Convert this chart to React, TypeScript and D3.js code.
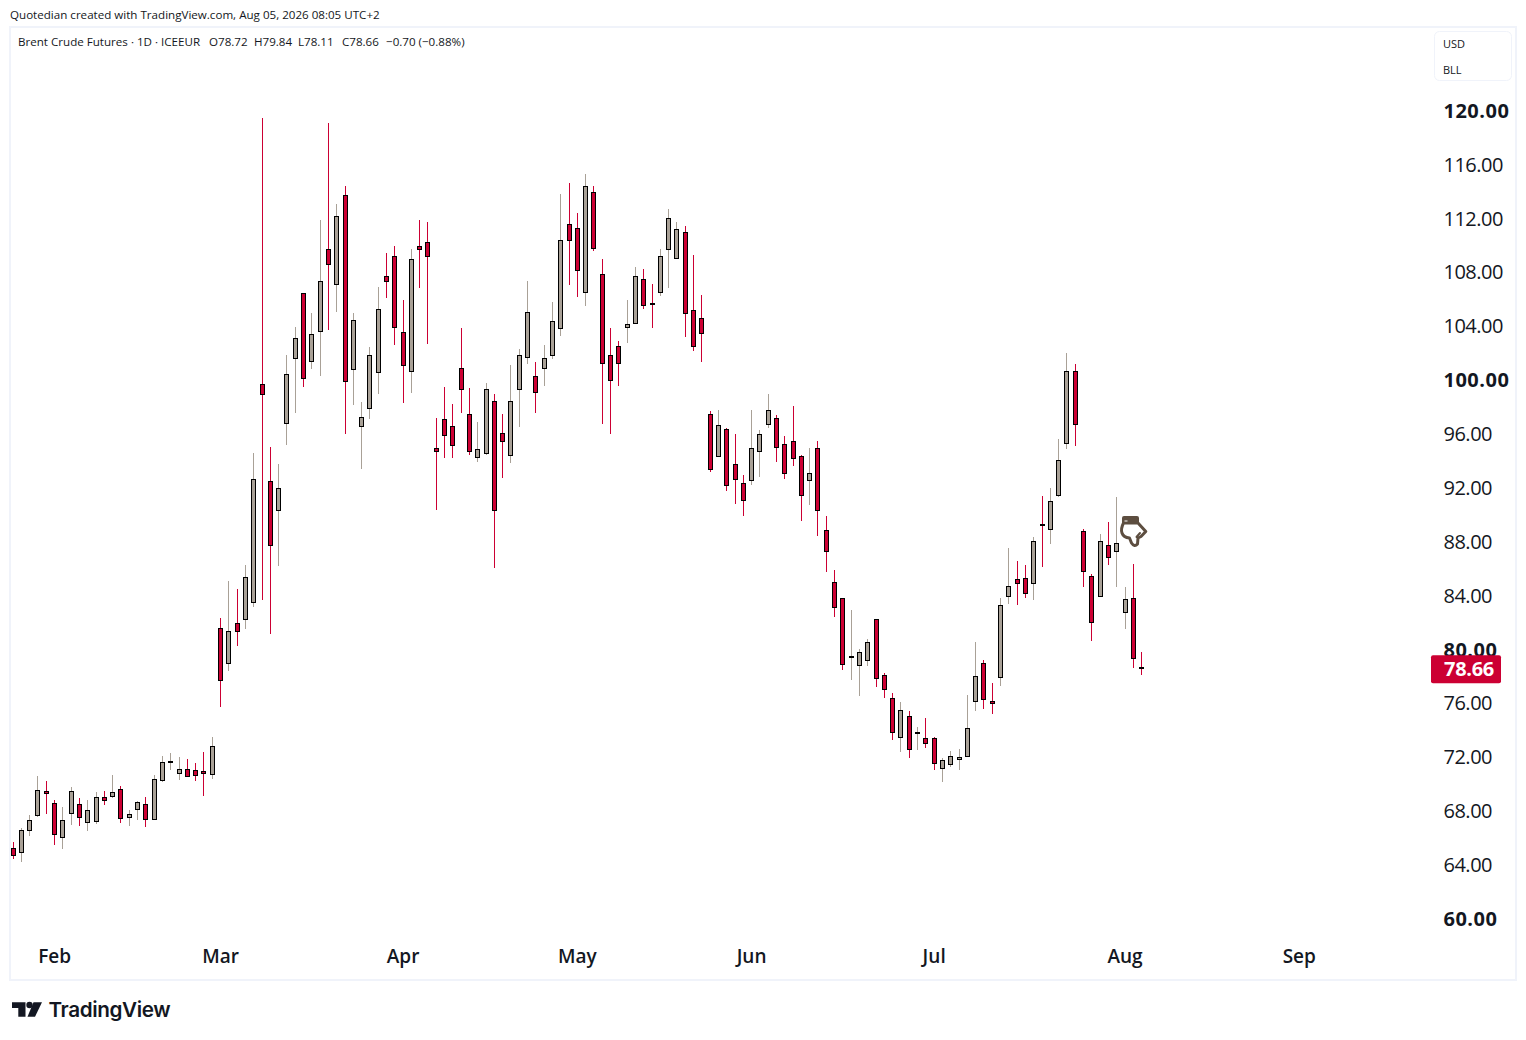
import React from "react";
import * as d3 from "d3";

const opens = [
  65.25,64.92,66.56,67.67,69.48,68.59,66.04,67.82,68.51,67.15,
  67.23,69.03,69.08,69.63,67.52,68.12,68.51,67.37,70.27,71.68,
  70.79,71.11,71.04,70.96,70.72,81.57,78.95,81.94,82.22,83.48,
  99.69,92.49,90.31,96.77,101.59,106.45,101.37,103.60,109.71,107.09,
  113.72,100.78,96.55,97.88,100.55,107.71,109.19,103.55,100.63,109.94,
  110.23,94.94,97.09,96.57,100.87,97.46,94.24,94.54,98.42,96.05,
  94.39,99.29,101.67,100.28,100.85,101.81,103.82,111.57,111.27,106.49,
  113.94,107.85,101.84,102.51,103.89,104.19,107.48,105.70,106.49,109.68,
  109.02,110.97,105.18,104.59,97.46,94.32,96.35,93.75,92.34,92.54,
  94.69,96.70,97.17,95.24,95.46,94.34,92.54,94.94,88.85,84.99,
  83.80,79.35,78.80,79.17,82.24,78.08,76.38,73.46,75.04,73.83,
  73.41,73.41,71.16,71.45,71.83,72.05,76.13,78.98,76.16,77.91,
  83.92,85.21,85.28,84.89,89.32,88.90,91.42,95.28,100.65,88.77,
  85.43,83.92,87.74,87.21,82.74,83.80,78.72,
];
const highs = [
  65.72,66.73,67.72,70.62,70.25,68.83,68.31,69.78,68.98,68.83,
  69.43,69.50,70.69,69.87,68.09,68.76,69.06,70.69,72.10,72.32,
  72.03,71.88,71.58,72.40,73.51,82.34,85.09,84.49,86.27,94.59,
  119.47,95.04,93.77,101.87,103.95,106.45,104.99,111.89,119.09,113.08,
  114.42,104.99,98.38,102.46,106.92,109.44,109.96,105.95,109.74,111.89,
  111.74,97.16,99.49,98.23,103.87,99.39,96.89,99.76,98.97,97.48,
  101.12,102.31,107.33,101.34,102.58,105.80,113.82,114.63,112.41,115.30,
  114.41,108.99,103.87,102.90,105.95,108.40,108.25,107.14,109.73,112.70,
  111.74,111.44,109.29,106.32,97.71,97.78,96.45,96.00,92.96,97.78,
  96.30,98.97,97.41,95.85,98.08,94.44,94.96,95.48,89.91,85.90,
  83.80,82.94,80.04,80.78,82.24,78.23,76.77,76.11,75.44,74.28,
  74.92,73.51,71.95,72.47,72.62,76.63,80.56,79.20,77.49,83.82,
  87.51,86.57,86.27,88.35,91.40,92.00,95.63,102.01,101.20,88.95,
  85.61,88.58,89.47,91.32,84.64,86.35,79.84,
];
const lows = [
  64.45,64.23,66.16,67.57,67.80,65.49,65.20,66.98,66.90,66.53,
  67.05,68.46,68.98,67.13,66.90,67.35,66.83,67.37,70.17,71.06,
  70.32,70.57,70.25,69.13,70.39,75.76,78.40,80.26,81.52,83.16,
  83.67,81.15,86.20,95.18,97.56,99.49,100.83,100.31,103.75,105.09,
  96.00,98.15,93.40,97.11,98.97,106.10,102.61,98.30,99.05,106.84,
  102.69,90.36,94.22,94.22,97.58,94.47,93.95,94.47,86.05,92.76,
  93.87,96.55,101.22,97.58,99.59,101.57,103.27,107.06,106.17,105.50,
  109.59,96.75,96.00,99.56,102.75,104.19,105.28,103.87,106.24,106.84,
  109.02,103.20,102.16,101.34,93.18,94.32,91.77,90.81,89.91,92.22,
  92.81,96.45,93.92,92.66,93.63,89.54,90.73,88.43,85.76,82.42,
  78.48,77.74,76.55,78.78,77.22,76.40,73.29,72.39,71.95,72.54,
  72.69,71.06,70.17,71.31,71.06,72.05,75.44,75.59,75.22,77.32,
  83.38,83.30,83.82,83.67,86.13,87.83,91.35,94.89,95.11,84.64,
  80.63,83.92,86.27,84.64,81.52,78.62,78.11,
];
const closes = [
  64.70,66.58,67.33,69.55,69.30,66.26,67.33,69.48,67.52,68.07,
  69.03,68.79,69.40,67.45,67.77,68.66,67.37,70.37,71.63,71.71,
  71.11,70.57,70.64,70.79,72.82,77.69,81.35,81.32,85.36,92.63,
  98.92,87.71,91.97,100.43,103.11,100.11,103.40,107.34,108.58,112.16,
  99.89,104.44,97.24,101.84,105.26,107.31,103.90,101.07,108.97,109.69,
  109.17,94.69,95.88,95.13,99.29,94.69,94.86,99.31,90.31,95.43,
  98.42,101.84,105.03,99.07,101.62,104.36,110.38,110.35,108.13,114.39,
  109.76,101.22,99.96,101.22,104.14,107.70,105.53,105.68,109.19,112.01,
  111.19,104.93,102.48,103.45,93.35,96.65,92.17,92.61,91.05,94.94,
  95.98,97.76,94.99,93.06,94.17,91.42,93.08,90.31,87.27,83.11,
  78.88,79.49,79.79,80.53,77.84,77.02,73.83,75.49,72.57,73.87,
  72.96,71.53,71.78,72.07,72.00,74.15,78.01,76.28,75.98,83.28,
  84.69,84.89,84.15,88.03,89.22,91.00,94.05,100.65,96.69,85.78,
  81.99,88.03,86.82,87.88,83.73,79.32,78.66,
];

const priceTicks = [60, 64, 68, 72, 76, 80, 84, 88, 92, 96, 100, 104, 108, 112, 116, 120];
const monthLabels = ["Feb", "Mar", "Apr", "May", "Jun", "Jul", "Aug", "Sep"];
const monthBarIndex = [5, 25, 47, 68, 89, 111, 134, 155];
const lastClose = 78.66;

const attribution = "Quotedian created with TradingView.com, Aug 05, 2026 08:05 UTC+2";
const legendTitle = "Brent Crude Futures · 1D · ICEEUR";
const legendValues = ["O78.72", "H79.84", "L78.11", "C78.66", "−0.70 (−0.88%)"];
const legendOffsets = [191, 236, 280, 324, 368];

const UP = "#A9A197";
const DOWN = "#CC0033";
const INK = "#131722";
const BORDER = "#F0F3FA";
const SANS = "'Open Sans', 'Noto Sans', sans-serif";

const x = d3.scaleLinear().domain([0, 136]).range([13.1, 1141.6]);
const y = d3.scaleLinear().domain([60, 120]).range([919, 110.8]);

export default function App() {
  const barCol = (i: number) => Math.floor(x(i)) + 0.5;
  return (
    <svg
      width={1526}
      height={1040}
      viewBox="0 0 1526 1040"
      style={{ position: "absolute", left: 0, top: 0, display: "block", background: "#fff" }}
    >
      <text x={10} y={18.5} fontFamily={SANS} fontSize={11.6} fill={INK}>{attribution}</text>

      <rect x={10} y={27} width={1506} height={953} fill="#fff" stroke={BORDER} strokeWidth={2} />

      <text x={18} y={46} fontFamily={SANS} fontSize={11.6} fill={INK}>{legendTitle}</text>
      {legendValues.map((v, i) => (
        <text key={v} x={18 + legendOffsets[i]} y={46} fontFamily={SANS} fontSize={11.6} fill={INK}>{v}</text>
      ))}

      <rect x={1434.5} y={31.5} width={77} height={49} rx={5} fill="#fff" stroke={BORDER} />
      <text x={1443} y={47.5} fontFamily={SANS} fontSize={11} fill={INK}>USD</text>
      <text x={1443} y={73.5} fontFamily={SANS} fontSize={11} fill={INK}>BLL</text>

      {priceTicks.map((t) => (
        <text
          key={t}
          x={1443.5}
          y={y(t) + 7}
          fontFamily={SANS}
          fontSize={20}
          fontWeight={t % 20 === 0 ? 700 : 500}
          letterSpacing={t % 20 === 0 ? 0.5 : -0.5}
          fill={INK}
        >
          {t.toFixed(2)}
        </text>
      ))}

      {monthLabels.map((m, i) => (
        <text
          key={m}
          x={x(monthBarIndex[i])}
          y={963}
          textAnchor="middle"
          fontFamily={SANS}
          fontSize={19}
          fontWeight={600}
          fill={INK}
        >
          {m}
        </text>
      ))}

      <g shapeRendering="crispEdges">
        {closes.map((c, i) => {
          const col = barCol(i);
          const color = c >= opens[i] ? UP : DOWN;
          const top = Math.round(y(Math.max(opens[i], c)));
          const bot = Math.round(y(Math.min(opens[i], c)));
          const thin = bot - top <= 1;
          return (
            <g key={i}>
              <line x1={col} x2={col} y1={y(highs[i])} y2={y(lows[i])} stroke={color} strokeWidth={1} />
              {thin ? (
                <rect x={col - 2.5} y={top} width={5} height={bot - top + 1} fill="#000" />
              ) : (
                <rect x={col - 2} y={top + 0.5} width={4} height={bot - top - 1} fill={color} stroke="#000" strokeWidth={1} />
              )}
            </g>
          );
        })}
      </g>

      <rect x={1431} y={y(lastClose) - 12.5} width={70} height={28} rx={2} fill={DOWN} />
      <text x={1444} y={y(lastClose) + 8.5} fontFamily={SANS} fontSize={20} fontWeight={700} letterSpacing={-0.3} fill="#fff">
        {lastClose.toFixed(2)}
      </text>

      <g fill="none" stroke="#5D4E40" strokeWidth={3} strokeLinejoin="round" strokeLinecap="round">
        <path
          fill="#fff"
          d="M1123.5 523 Q1120.5 529 1122 533 Q1123.5 537.5 1129.5 538 L1131.5 543 Q1134.5 547.5 1137.5 544 L1138 538 L1141 536.5 L1145.8 531.5 L1138 523 Z"
        />
        <path d="M1136.5 537 L1140 533" strokeWidth={2} />
        <path
          fill="#5D4E40"
          stroke="none"
          d="M1124 516 H1137 Q1139 516 1139 518 V523.5 H1127.5 V520.5 H1124.5 V523.5 H1122 V518 Q1122 516 1124 516 Z"
        />
      </g>

      <g fill="#131722">
        <path d="M12 1002.3 H25.5 V1016.7 H18.3 V1008 H12 Z" />
        <circle cx={29.5} cy={1005} r={3.2} />
        <path d="M33.5 1002.3 H42 L35 1016.7 H27.5 Z" />
      </g>
      <text x={48.5} y={1016.7} fontFamily="Inter, 'Open Sans', sans-serif" fontSize={20.7} fontWeight={600} letterSpacing={-0.4} fill="#131722">
        TradingView
      </text>
    </svg>
  );
}
